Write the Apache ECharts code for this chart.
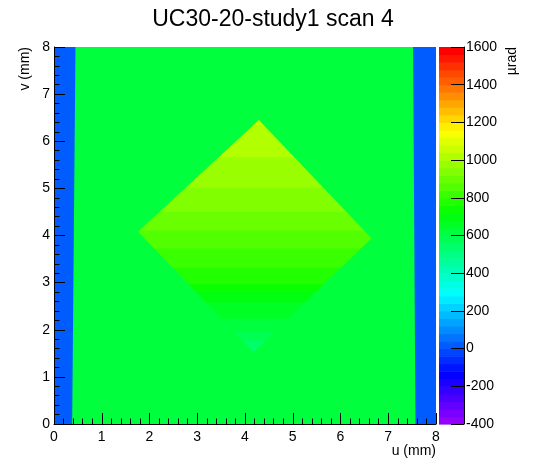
<!DOCTYPE html>
<html>
<head>
<meta charset="utf-8">
<script src="https://cdn.jsdelivr.net/npm/echarts@6/dist/echarts.min.js"></script>
<style>
html,body{margin:0;padding:0;background:#fff;}
#chart{width:546px;height:472px;}
</style>
</head>
<body>
<div id="chart"></div>
<script>
// ---------------- data ----------------
const chartTitle = 'UC30-20-study1 scan 4';
const uName = 'u (mm)';
const vName = 'v (mm)';
const zName = 'µrad';
const uRange = [0, 8];
const vRange = [0, 8];
const zRange = [-400, 1600];
const zTickStep = 200;
const nColors = 50;

// empty bins (value 0) fill the frame
const emptyU = [0, 0, 8, 8];
const emptyV = [0, 8, 8, 0];
const emptyZ = 0;

// scanned (noisy) field, typical value
const fieldU = [0.38, 0.45, 7.52, 7.57];
const fieldV = [0, 8, 8, 0];
const fieldZ = 620;

// diamond corners: top, right, bottom, left
const diamondU = [4.29, 6.65, 4.18, 1.76];
const diamondV = [6.45, 3.94, 1.53, 4.08];
// diamond value profile read along v
const profileV = [6.45, 6.34, 5.14, 4.43, 3.73, 3.01, 2.67, 2.31, 1.95, 1.53];
const profileZ = [1090, 1040, 970, 915, 840, 770, 690, 650, 600, 520];

// ---------------- palette (ROOT "pretty" palette) ----------------
function paletteIndex(z) {
  const i = Math.floor((z - zRange[0]) / (zRange[1] - zRange[0]) * nColors);
  return Math.max(0, Math.min(nColors - 1, i));
}
function hueColor(h) {
  const hp = h / 60;
  const x = 1 - Math.abs((hp % 2) - 1);
  let r = 0, g = 0, b = 0;
  if (hp < 1) { r = 1; g = x; }
  else if (hp < 2) { r = x; g = 1; }
  else if (hp < 3) { g = 1; b = x; }
  else if (hp < 4) { g = x; b = 1; }
  else if (hp < 5) { r = x; b = 1; }
  else { r = 1; b = x; }
  return 'rgb(' + Math.round(r * 255) + ',' + Math.round(g * 255) + ',' + Math.round(b * 255) + ')';
}
function paletteColor(i) {
  return hueColor(280 - (i + 1) * 280 / nColors);
}
function zColor(z) { return paletteColor(paletteIndex(z)); }

function profileAt(v) {
  if (v >= profileV[0]) return profileZ[0];
  for (let k = 1; k < profileV.length; k++) {
    if (v >= profileV[k]) {
      const t = (v - profileV[k]) / (profileV[k - 1] - profileV[k]);
      return profileZ[k] + t * (profileZ[k - 1] - profileZ[k]);
    }
  }
  return profileZ[profileZ.length - 1];
}

function polygonRenderer(us, vs) {
  return function (params, api) {
    const pts = us.map((u, i) => api.coord([u, vs[i]]));
    return {
      type: 'polygon',
      shape: { points: pts },
      style: { fill: zColor(api.value(0)), stroke: null }
    };
  };
}

function diamondRenderer(params, api) {
  const pts = diamondU.map((u, i) => api.coord([u, diamondV[i]]));
  const vTop = Math.max.apply(null, diamondV);
  const vBot = Math.min.apply(null, diamondV);
  const pTop = api.coord([diamondU[0], vTop]);
  const pBot = api.coord([diamondU[0], vBot]);
  const stops = [];
  const N = 400;
  for (let k = 0; k <= N; k++) {
    const t = k / N;
    const v = vTop - t * (vTop - vBot);
    stops.push({ offset: t, color: zColor(profileAt(v)) });
  }
  return {
    type: 'polygon',
    shape: { points: pts },
    style: {
      fill: { type: 'linear', x: 0, y: pTop[1], x2: 0, y2: pBot[1], global: true, colorStops: stops },
      stroke: null
    }
  };
}

const bandStep = (zRange[1] - zRange[0]) / nColors;
const bands = [];
for (let i = 0; i < nColors; i++) bands.push([zRange[0] + i * bandStep, zRange[0] + (i + 1) * bandStep, i]);

function bandRenderer(params, api) {
  const p0 = api.coord([0, api.value(0)]);
  const p1 = api.coord([1, api.value(1)]);
  return {
    type: 'rect',
    shape: { x: p0[0], y: p1[1], width: p1[0] - p0[0], height: p0[1] - p1[1] + 0.6 },
    style: { fill: paletteColor(api.value(2)), stroke: null }
  };
}

// ---------------- chart ----------------
const FONT = 'Liberation Sans, Arial, Helvetica, sans-serif';
const chart = echarts.init(document.getElementById('chart'), null, { renderer: 'canvas' });

const tickText = { color: '#000', fontSize: 14, fontFamily: FONT, formatter: function (v) { return String(v); } };

chart.setOption({
  animation: false,
  backgroundColor: '#fff',
  title: {
    text: chartTitle, left: 'center', top: 3,
    textStyle: { fontSize: 23, fontWeight: 'normal', color: '#000', fontFamily: FONT }
  },
  grid: [
    { left: 54, top: 47, width: 382, height: 377, outerBoundsMode: 'none', containLabel: false },
    { left: 439, top: 47, width: 25, height: 377, outerBoundsMode: 'none', containLabel: false }
  ],
  xAxis: [
    {
      gridIndex: 0, type: 'value', min: uRange[0], max: uRange[1], interval: 1, z: 10,
      axisLine: { show: true, onZero: false, lineStyle: { color: '#000', width: 1 } },
      axisTick: { show: true, inside: true, length: 11, lineStyle: { color: '#000', width: 1 } },
      minorTick: { show: true, splitNumber: 5, length: 5.5, lineStyle: { color: '#000', width: 1 } },
      splitLine: { show: false }, minorSplitLine: { show: false },
      axisLabel: Object.assign({ margin: 6, showMinLabel: true, showMaxLabel: true, hideOverlap: false }, tickText),
      name: uName, nameLocation: 'end', nameGap: 0, nameMoveOverlap: false,
      nameTextStyle: { color: '#000', fontSize: 14, fontFamily: FONT, align: 'right', verticalAlign: 'top', padding: [20, 0, 0, 0] }
    },
    { gridIndex: 1, type: 'value', min: 0, max: 1, show: false }
  ],
  yAxis: [
    {
      gridIndex: 0, type: 'value', min: vRange[0], max: vRange[1], interval: 1, z: 10,
      axisLine: { show: true, onZero: false, lineStyle: { color: '#000', width: 1 } },
      axisTick: { show: true, inside: true, length: 11, lineStyle: { color: '#000', width: 1 } },
      minorTick: { show: true, splitNumber: 5, length: 5.5, lineStyle: { color: '#000', width: 1 } },
      splitLine: { show: false }, minorSplitLine: { show: false },
      axisLabel: Object.assign({ margin: 4, showMinLabel: true, showMaxLabel: true, hideOverlap: false }, tickText),
      name: vName, nameLocation: 'end', nameGap: 0, nameRotate: 90, nameMoveOverlap: false,
      nameTextStyle: { color: '#000', fontSize: 14, fontFamily: FONT, align: 'right', verticalAlign: 'bottom', padding: [0, 0, 22, 0] }
    },
    {
      gridIndex: 1, type: 'value', position: 'right', min: zRange[0], max: zRange[1], interval: zTickStep, z: 10,
      axisLine: { show: true, onZero: false, lineStyle: { color: '#000', width: 1 } },
      axisTick: { show: true, inside: true, length: 13, lineStyle: { color: '#000', width: 1 } },
      splitLine: { show: false },
      axisLabel: Object.assign({ margin: 2, showMinLabel: true, showMaxLabel: true, hideOverlap: false }, tickText),
      name: zName, nameLocation: 'end', nameGap: 0, nameRotate: 90, nameMoveOverlap: false,
      nameTextStyle: { color: '#000', fontSize: 14, fontFamily: FONT, align: 'right', verticalAlign: 'top', padding: [41, 0, 0, 0] }
    }
  ],
  series: [
    { type: 'custom', name: 'empty', xAxisIndex: 0, yAxisIndex: 0, clip: true, z: 2,
      data: [[emptyZ]], renderItem: polygonRenderer(emptyU, emptyV), silent: true },
    { type: 'custom', name: 'field', xAxisIndex: 0, yAxisIndex: 0, clip: true, z: 2,
      data: [[fieldZ]], renderItem: polygonRenderer(fieldU, fieldV), silent: true },
    { type: 'custom', name: 'diamond', xAxisIndex: 0, yAxisIndex: 0, clip: true, z: 2,
      data: [[profileZ[0]]], renderItem: diamondRenderer, silent: true },
    { type: 'custom', name: 'palette', xAxisIndex: 1, yAxisIndex: 1, clip: false, z: 2,
      data: bands, renderItem: bandRenderer, silent: true }
  ]
});
</script>
</body>
</html>
